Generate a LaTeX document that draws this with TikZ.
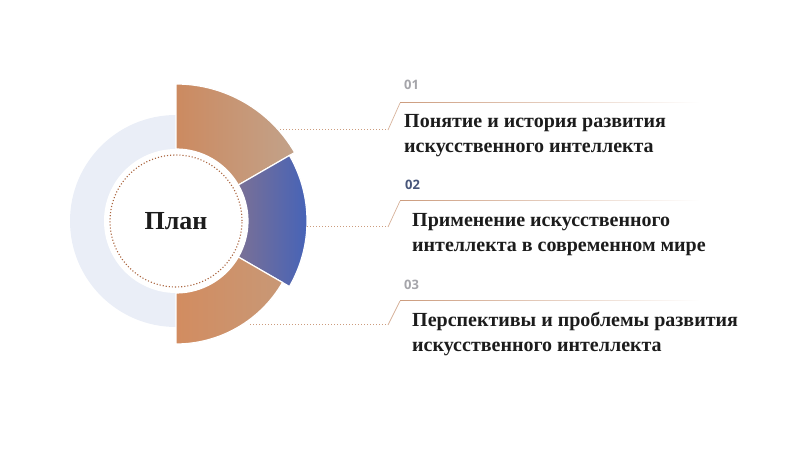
\documentclass[tikz,border=0pt]{standalone}
\usepackage{fontspec}
\setmainfont{Liberation Serif}
\setsansfont{Open Sans}
\usetikzlibrary{calc,positioning}

\definecolor{paleblue}{RGB}{234,238,247}
\definecolor{tanA}{RGB}{204,138,96}
\definecolor{tanB}{RGB}{194,162,138}
\definecolor{tanC}{RGB}{210,140,96}
\definecolor{tanD}{RGB}{200,152,118}
\definecolor{blueA}{RGB}{122,112,150}
\definecolor{blueB}{RGB}{66,98,186}
\definecolor{ringbrown}{RGB}{170,100,62}
\definecolor{leadtan}{RGB}{204,156,126}
\definecolor{numgrey}{RGB}{165,165,170}
\definecolor{numblue}{RGB}{72,86,122}
\definecolor{txt}{RGB}{28,28,28}

\begin{document}
\begin{tikzpicture}[x=1pt,y=1pt,
    seg/.style={draw=white, line width=1.2pt},
    lead/.style={draw=leadtan, dotted, line width=1pt},
    kink/.style={draw=leadtan!80, line width=0.7pt},
    item/.style={font=\bfseries\fontsize{20}{25}\selectfont, text=txt, align=left, inner sep=0pt, anchor=base west},
    num/.style={font=\sffamily\bfseries\fontsize{13}{13}\selectfont, inner sep=0pt, anchor=west}]

\useasboundingbox (0,0) rectangle (800,449);
\coordinate (c) at (176,228);

% ring
\fill[paleblue] (c) circle (106);
\shadedraw[seg, left color=tanA, right color=tanB]
  ($(c)+(30:72)$) arc[start angle=30, end angle=90, radius=72]
  -- ($(c)+(90:137)$) arc[start angle=90, end angle=30, radius=137] -- cycle;
\shadedraw[seg, left color=blueA, right color=blueB]
  ($(c)+(-30:72)$) arc[start angle=-30, end angle=30, radius=72]
  -- ($(c)+(30:131)$) arc[start angle=30, end angle=-30, radius=131] -- cycle;
\shadedraw[seg, left color=tanC, right color=tanD]
  ($(c)+(-90:72)$) arc[start angle=-90, end angle=-30, radius=72]
  -- ($(c)+(-30:123)$) arc[start angle=-30, end angle=-90, radius=123] -- cycle;
\fill[white] (c) circle (72);
\node[circle, draw=ringbrown, dotted, line width=1.1pt, minimum size=132pt, inner sep=0pt,
  font=\bfseries\fontsize{26}{26}\selectfont, text=txt] (plan) at (c) {План};

% leaders
\coordinate (d1) at (280,319); \coordinate (k1) at (388,319);
\coordinate (t1) at (400,346); \coordinate (e1) at (700,346);
\coordinate (d2) at (307,222); \coordinate (k2) at (388,222);
\coordinate (t2) at (400,248); \coordinate (e2) at (700,248);
\coordinate (d3) at (250,124); \coordinate (k3) at (388,124);
\coordinate (t3) at (400,148); \coordinate (e3) at (700,148);
\foreach \i in {1,2,3} {
  \draw[lead] (d\i) -- (k\i);
  \draw[kink] (k\i) -- (t\i);
  \shade[left color=leadtan, right color=white] (t\i) rectangle ($(e\i)+(0,0.9)$);
}

% items
\node[num, text=numgrey] (n1) at (404,364) {01};
\node[item] (s1) at (404,296) {Понятие и история развития\\искусственного интеллекта};
\node[num, text=numblue] (n2) at (405,264) {02};
\node[item] (s2) at (412,197) {Применение искусственного\\интеллекта в современном мире};
\node[num, text=numgrey] (n3) at (404,164) {03};
\node[item] (s3) at (412,97) {Перспективы и проблемы развития\\искусственного интеллекта};
\end{tikzpicture}
\end{document}
